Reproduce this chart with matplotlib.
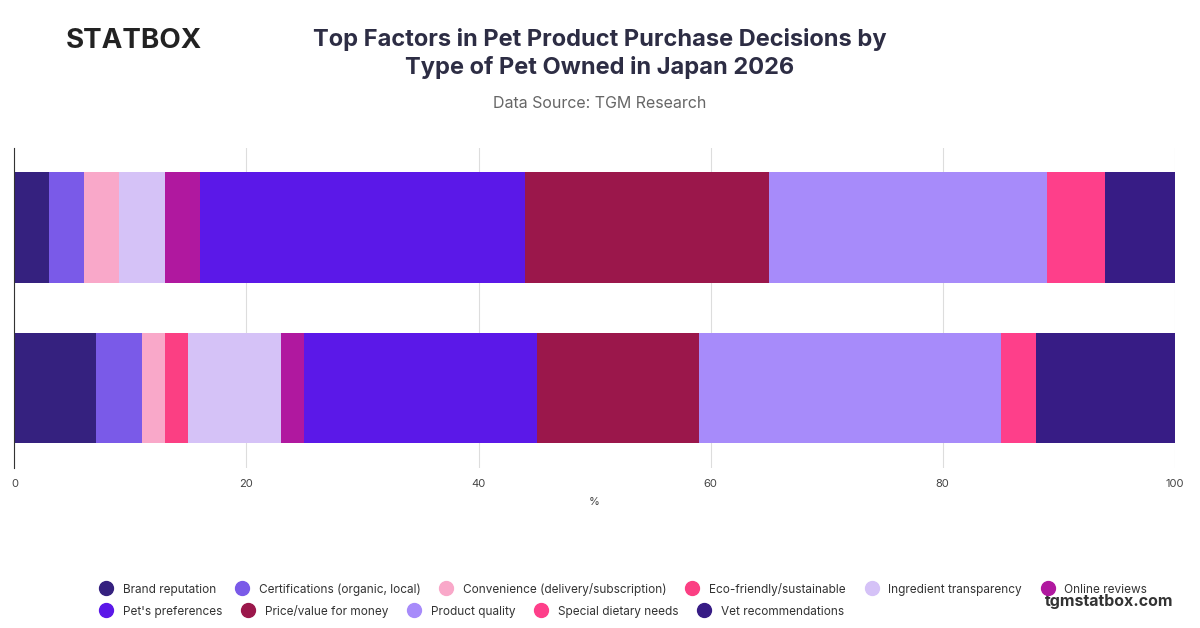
import matplotlib.pyplot as plt
import numpy as np

factors = ["Brand reputation", "Certifications (organic, local)", "Convenience (delivery/subscription)",
           "Eco-friendly/sustainable", "Ingredient transparency", "Online reviews",
           "Pet's preferences", "Price/value for money", "Product quality",
           "Special dietary needs", "Vet recommendations"]
colors = ["#35217f", "#7a5ae8", "#f9a8c9", "#fb3f83", "#d5c2f7", "#b0189f",
          "#5b18e8", "#9b174b", "#a78bfa", "#fe3f8a", "#371c85"]
bar_top = [3, 3, 3, 0, 4, 3, 28, 21, 24, 5, 6]
bar_bottom = [7, 4, 2, 2, 8, 2, 20, 14, 26, 3, 12]
rows = [bar_top, bar_bottom]

plt.rcParams['font.family'] = ['Inter', 'DejaVu Sans']

fig = plt.figure(figsize=(12, 6.28), dpi=100)
ax = fig.add_axes([0.012, 0.255, 0.967, 0.51])

for r, vals in enumerate(rows):
    left = 0
    for v, c in zip(vals, colors):
        ax.barh(1 - r, v, left=left, color=c, height=0.69)
        left += v

ax.set_xlim(0, 100)
ax.set_ylim(-0.5, 1.5)
ax.set_yticks([])
ax.set_xticks([0, 20, 40, 60, 80, 100])
ax.tick_params(axis='x', length=0, labelsize=8, colors="#444444", pad=8)
ax.grid(axis='x', color="#dddddd", linewidth=0.8)
ax.set_axisbelow(True)
for s in ["top", "right", "bottom"]:
    ax.spines[s].set_visible(False)
ax.spines["left"].set_color("#333333")
ax.set_xlabel("%", fontsize=8, color="#444444", labelpad=6)

fig.text(0.5, 0.915, "Top Factors in Pet Product Purchase Decisions by\nType of Pet Owned in Japan 2026",
         ha='center', va='center', fontsize=17, fontweight='bold', color="#2d2d44", linespacing=1.3)
fig.text(0.5, 0.828, "Data Source: TGM Research", ha='center', fontsize=11.5, color="#666666")
fig.text(0.055, 0.935, "STATBOX", fontsize=20, fontweight='bold', color="#222222", va='center')
fig.text(0.978, 0.035, "tgmstatbox.com", ha='right', fontsize=11.5, fontweight='bold', color="#333333")

handles = [plt.Line2D([], [], marker='o', linestyle='', markersize=10, color=c) for c in colors]
fig.legend(handles[:6], factors[:6], loc='center left', bbox_to_anchor=(0.07, 0.062), ncol=6,
           frameon=False, fontsize=8.5, handletextpad=0.4, columnspacing=1.2)
fig.legend(handles[6:], factors[6:], loc='center left', bbox_to_anchor=(0.07, 0.027), ncol=5,
           frameon=False, fontsize=8.5, handletextpad=0.4, columnspacing=1.2)
for t in fig.legends[0].get_texts() + fig.legends[1].get_texts():
    t.set_color("#333333")

fig.savefig("out.png", dpi=100)
